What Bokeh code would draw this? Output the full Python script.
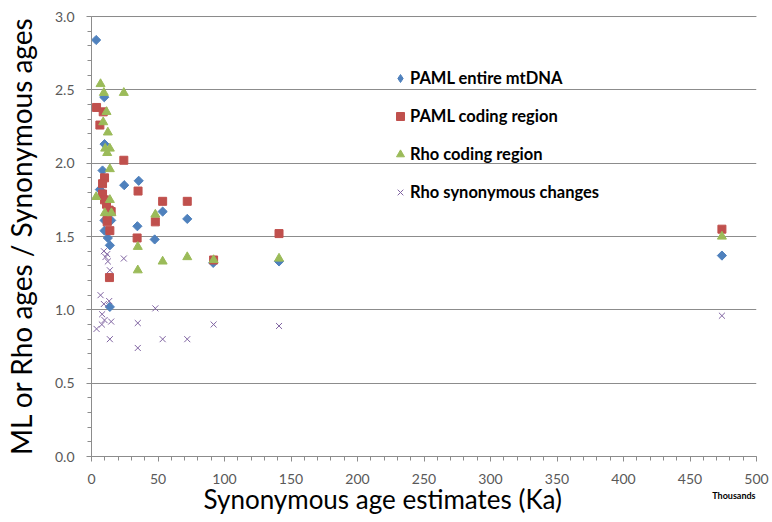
import math
from bokeh.plotting import figure
from bokeh.models import (SingleIntervalTicker, FixedTicker, Legend, LegendItem,
                          ColumnDataSource, Range1d, PrintfTickFormatter, LinearAxis, Span)
from bokeh.embed import file_html
from bokeh.resources import INLINE

# ---- data (synonymous age estimate in Ka, ratio) ----
paml_mtdna_x = [3.5, 9.6, 9.8, 8.3, 6.3, 24.6, 35.5, 9.8, 14.8, 9.8, 12.3, 13.8,
                34.5, 47.5, 53.5, 72.0, 91.5, 141.0, 474.0, 13.8]
paml_mtdna_y = [2.84, 2.45, 2.13, 1.95, 1.82, 1.85, 1.88, 1.61, 1.61, 1.54, 1.49, 1.44,
                1.57, 1.48, 1.67, 1.62, 1.32, 1.33, 1.37, 1.02]

paml_coding_x = [3.8, 8.8, 6.3, 24.3, 9.8, 8.3, 35.0, 8.3, 9.8, 11.3, 13.3, 14.8,
                 11.8, 11.8, 13.8, 34.3, 48.0, 53.5, 72.0, 91.8, 13.5, 141.0, 474.0]
paml_coding_y = [2.38, 2.35, 2.26, 2.02, 1.90, 1.86, 1.81, 1.79, 1.75, 1.72, 1.68, 1.67,
                 1.64, 1.60, 1.54, 1.49, 1.60, 1.74, 1.74, 1.34, 1.22, 1.52, 1.55]

rho_coding_x = [6.8, 9.3, 24.3, 11.3, 8.8, 12.3, 10.3, 13.8, 11.8, 13.8, 3.5, 13.8,
                10.0, 15.0, 48.0, 34.8, 34.8, 53.5, 72.0, 91.8, 141.0, 474.0]
rho_coding_y = [2.54, 2.48, 2.48, 2.35, 2.28, 2.21, 2.10, 2.10, 2.07, 1.96, 1.77, 1.75,
                1.66, 1.66, 1.65, 1.43, 1.27, 1.33, 1.36, 1.34, 1.35, 1.50]

rho_syn_x = [9.3, 11.8, 10.5, 12.3, 24.3, 13.8, 6.8, 9.3, 13.3, 48.0, 8.0, 9.8,
             14.8, 7.8, 3.8, 34.8, 13.8, 34.8, 53.5, 72.0, 91.8, 141.0, 474.0]
rho_syn_y = [1.40, 1.38, 1.36, 1.33, 1.35, 1.27, 1.10, 1.04, 1.06, 1.01, 0.97, 0.93,
             0.92, 0.90, 0.87, 0.91, 0.80, 0.74, 0.80, 0.80, 0.90, 0.89, 0.96]

series_names = ["PAML entire mtDNA", "PAML coding region", "Rho coding region",
                "Rho synonymous changes"]
x_title = "Synonymous age estimates (Ka)"
y_title = "ML or Rho ages / Synonymous ages"
units_note = "Thousands"
x_title_pos = 219   # where the x title is centred along the x axis
units_note_pos = 483
y_max_tick = 3.0

FONT = "Lato"
GRID = "#8c8c8c"
TICK_TXT = "#595959"

p = figure(width=772, height=522,
           min_border_left=89, min_border_right=16, min_border_top=15, min_border_bottom=66,
           output_backend="svg", toolbar_location=None,
           x_range=Range1d(0, 500), y_range=Range1d(0, 3.007))
p.outline_line_color = None
p.background_fill_color = "white"
p.border_fill_color = "white"

y_ticker = SingleIntervalTicker(interval=0.5, num_minor_ticks=5)
# main axes
p.xaxis.ticker = SingleIntervalTicker(interval=50, num_minor_ticks=5)
p.yaxis.ticker = y_ticker
p.ygrid.ticker = y_ticker
p.yaxis.formatter = PrintfTickFormatter(format="%.1f")
p.yaxis.bounds = (0, y_max_tick)
for ax in (p.xaxis[0], p.yaxis[0]):
    ax.axis_line_color = GRID
    ax.major_tick_line_color = GRID
    ax.minor_tick_line_color = GRID
    ax.major_tick_out = 5
    ax.major_tick_in = 0
    ax.minor_tick_out = 4
    ax.minor_tick_in = 0
    ax.major_label_text_font = FONT
    ax.major_label_text_font_size = "14px"
    ax.major_label_text_color = TICK_TXT
p.yaxis.major_label_standoff = 12
p.xaxis.major_label_standoff = 12

p.yaxis.axis_label = y_title
p.yaxis.axis_label_text_font = FONT
p.yaxis.axis_label_text_font_size = "28px"
p.yaxis.axis_label_text_font_style = "normal"
p.yaxis.axis_label_text_color = "black"
p.yaxis.axis_label_standoff = 14

# top gridline at the last major tick
p.add_layout(Span(location=y_max_tick, dimension="width", line_color=GRID, line_width=1))

# x title and units note as extra label-only axes (so they can sit off-centre)
def label_axis(pos, text, size, style, standoff):
    ax = LinearAxis(ticker=FixedTicker(ticks=[pos], minor_ticks=[]),
                    major_label_overrides={pos: text},
                    axis_line_color=None, major_tick_line_color=None,
                    minor_tick_line_color=None, major_tick_out=0, major_tick_in=0,
                    minor_tick_out=0, minor_tick_in=0,
                    major_label_standoff=standoff,
                    major_label_text_font=FONT, major_label_text_font_size=size,
                    major_label_text_font_style=style, major_label_text_color="black")
    return ax

p.add_layout(label_axis(x_title_pos, x_title, "26px", "normal", -4), "below")
p.add_layout(label_axis(units_note_pos, units_note, "9px", "bold", -28), "below")

p.xgrid.grid_line_color = None
p.ygrid.grid_line_color = GRID

# series
blue = "#4F81BD"; red = "#C0504D"; green = "#9BBB59"; purple = "#8064A2"

src_blue = ColumnDataSource(dict(x=paml_mtdna_x, y=paml_mtdna_y))
r_blue = p.scatter(x="x", y="y", source=src_blue,
                   marker="square", angle=math.pi / 4, size=6.5,
                   fill_color=blue, line_color=blue)
r_red = p.scatter(x="x", y="y", source=ColumnDataSource(dict(x=paml_coding_x, y=paml_coding_y)),
                  marker="square", size=8, fill_color=red, line_color=red)
r_green = p.scatter(x="x", y="y", source=ColumnDataSource(dict(x=rho_coding_x, y=rho_coding_y)),
                    marker="triangle", size=9, fill_color=green, line_color=green)
r_purple = p.scatter(x="x", y="y", source=ColumnDataSource(dict(x=rho_syn_x, y=rho_syn_y)),
                     marker="x", size=8.5, line_color=purple, line_width=1)

# hidden diamond twin of the blue series, used only for its legend glyph
r_blue_leg = p.scatter(x="x", y="y", source=src_blue, marker="diamond",
                       fill_color=blue, line_color=blue, visible=False)

legend = Legend(items=[LegendItem(label=series_names[0], renderers=[r_blue_leg]),
                       LegendItem(label=series_names[1], renderers=[r_red]),
                       LegendItem(label=series_names[2], renderers=[r_green]),
                       LegendItem(label=series_names[3], renderers=[r_purple])],
                location=(299, 254), orientation="vertical",
                glyph_width=20, glyph_height=20, label_height=20, label_standoff=0,
                spacing=18, padding=0, margin=0,
                background_fill_alpha=0, border_line_alpha=0,
                inactive_fill_alpha=0,
                label_text_font=FONT, label_text_font_style="bold",
                label_text_font_size="16.5px", label_text_color="black")
p.add_layout(legend, "center")

open("out.html", "w").write(file_html(p, INLINE))
